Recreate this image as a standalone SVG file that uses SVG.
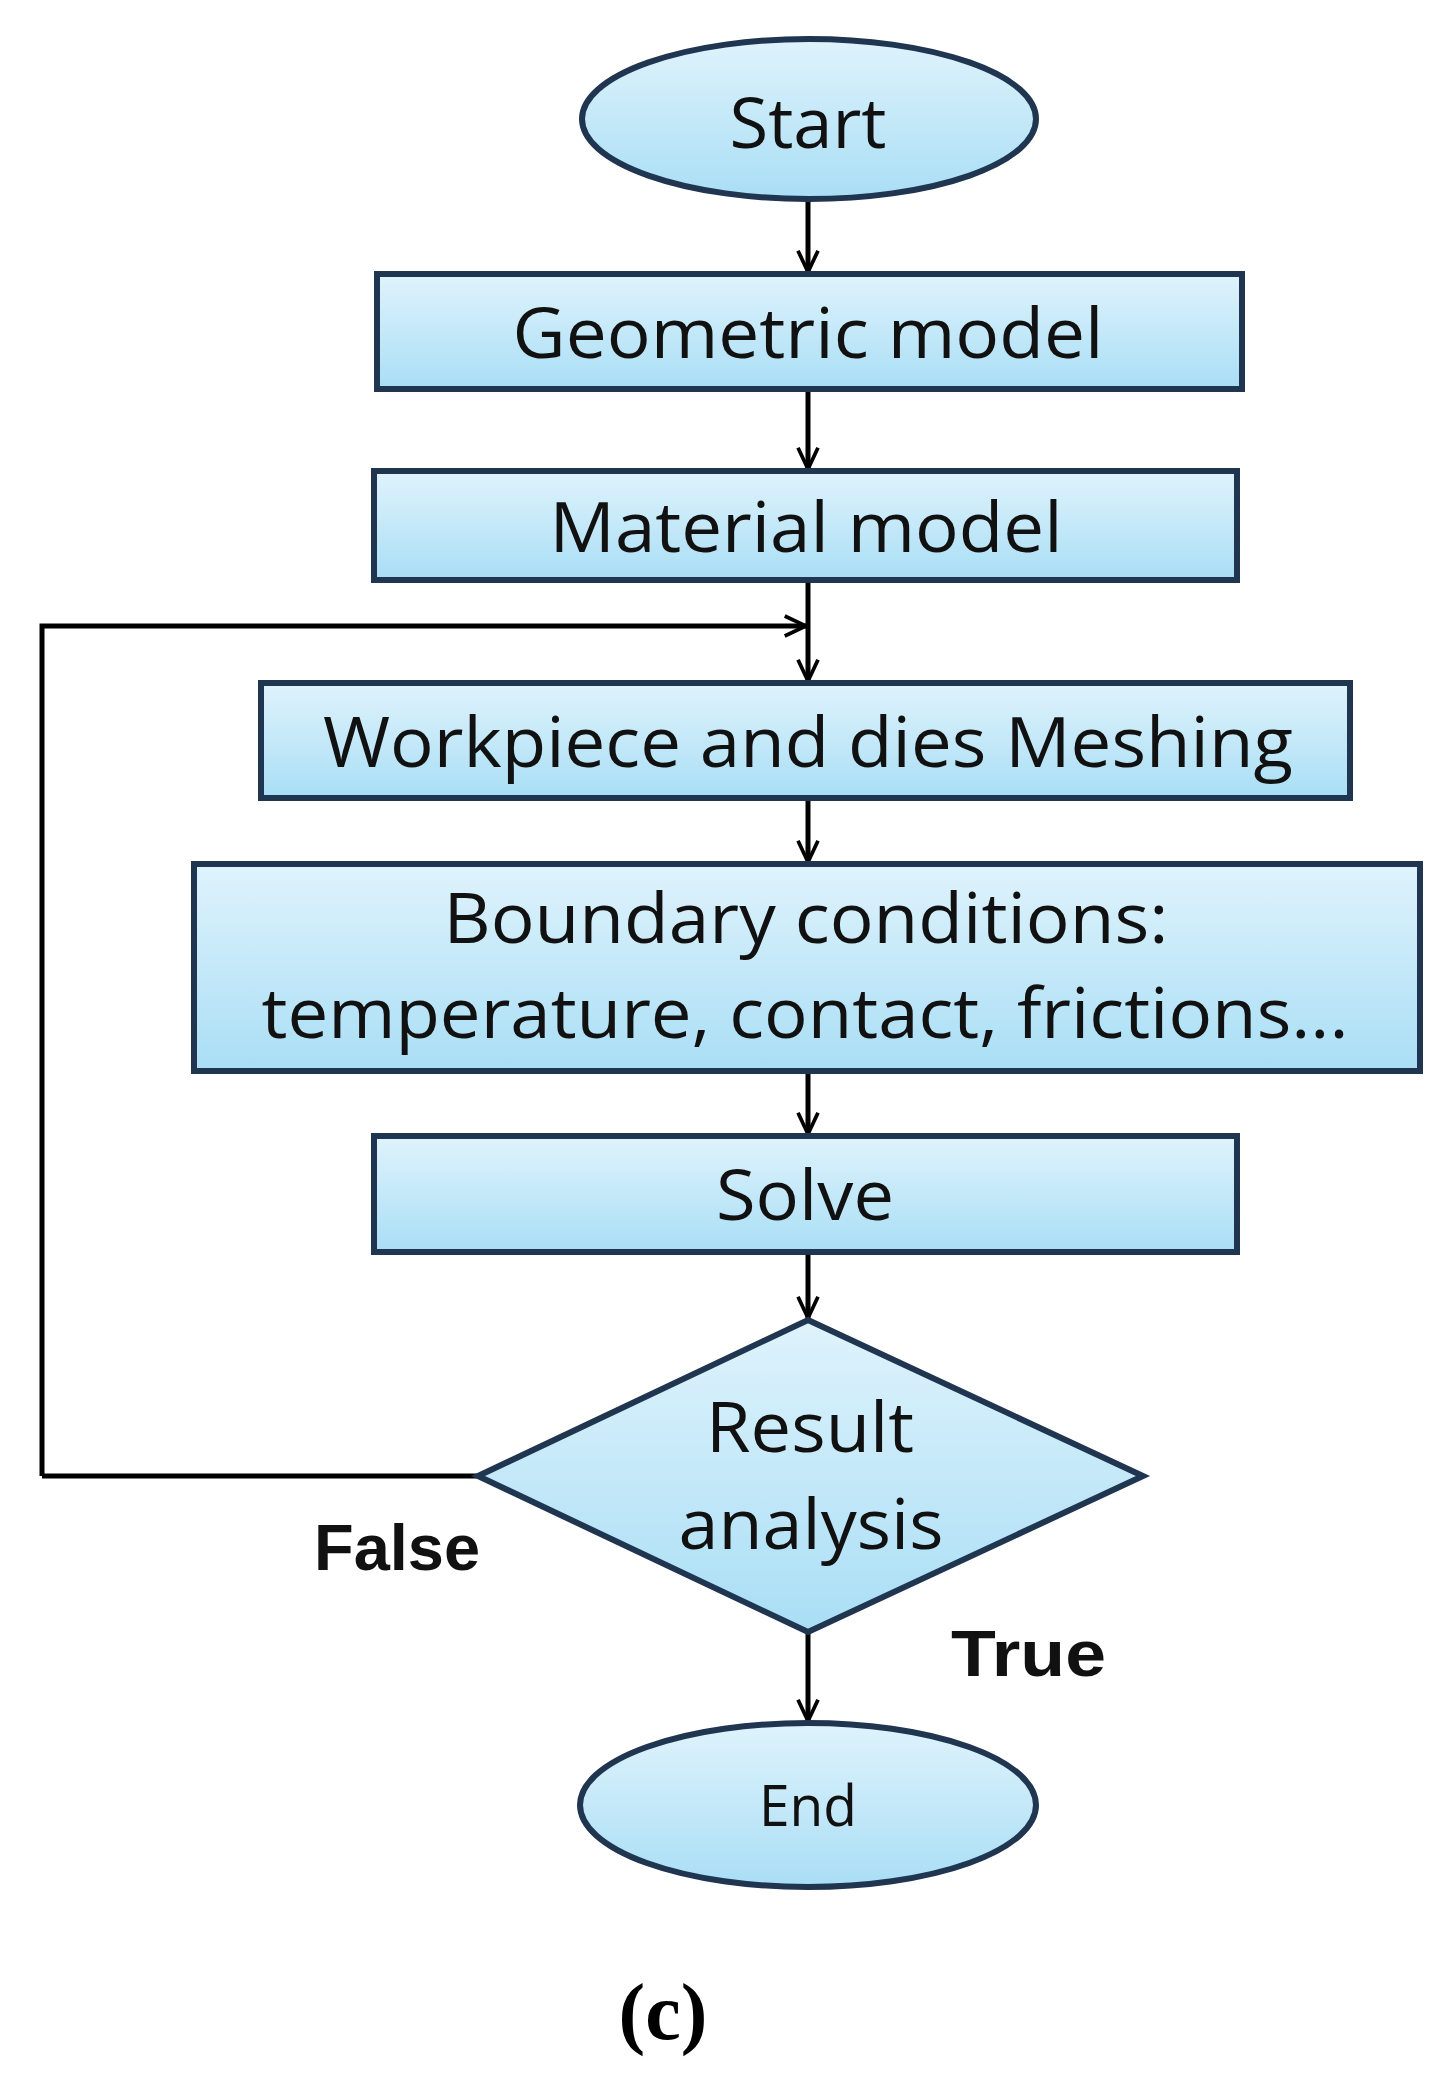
<svg xmlns="http://www.w3.org/2000/svg" width="1441" height="2077" viewBox="0 0 1441 2077">
<style>
.n{stroke:#1f3550;stroke-width:6;fill:url(#g)}
.t{font-family:"Open Sans","Liberation Sans",sans-serif;font-size:70px;fill:#111;text-anchor:middle}
.c{stroke:#000;stroke-width:5;fill:none;marker-end:url(#a)}
.l{font-family:"Liberation Sans",sans-serif;font-weight:bold;font-size:64px;fill:#111}
</style>
<defs>
<linearGradient id="g" x1="0" y1="0" x2="0" y2="1"><stop offset="0" stop-color="#dff3fc"/><stop offset="1" stop-color="#a9def5"/></linearGradient>
<marker id="a" viewBox="0 0 20 20" refX="19" refY="10" markerWidth="5" markerHeight="5" markerUnits="strokeWidth" orient="auto"><path d="M2,2 L19,10 L2,18" fill="none" stroke="#000" stroke-width="3"/></marker>
</defs>
<rect width="1441" height="2077" fill="#fff"/>
<g id="connectors">
<path class="c" d="M808,199 V272"/>
<path class="c" d="M808,389 V469"/>
<path class="c" d="M808,580 V681"/>
<path class="c" d="M42,1476 V626 H806"/>
<path d="M478,1476 H42" stroke="#000" stroke-width="5" fill="none"/>
<path class="c" d="M808,798 V862"/>
<path class="c" d="M808,1071 V1134"/>
<path class="c" d="M808,1252 V1318"/>
<path class="c" d="M808,1632 V1721"/>
</g>
<g id="start"><ellipse class="n" cx="809" cy="119" rx="227" ry="80"/><text class="t" x="808" y="148" textLength="157" lengthAdjust="spacingAndGlyphs">Start</text></g>
<g id="geometric"><rect class="n" x="377" y="274" width="865" height="115"/><text class="t" x="808" y="358" textLength="591" lengthAdjust="spacingAndGlyphs">Geometric model</text></g>
<g id="material"><rect class="n" x="374" y="471" width="863" height="109"/><text class="t" x="806" y="552" textLength="513" lengthAdjust="spacingAndGlyphs">Material model</text></g>
<g id="meshing"><rect class="n" x="261" y="683" width="1089" height="115"/><text class="t" x="808" y="767" textLength="970" lengthAdjust="spacingAndGlyphs">Workpiece and dies Meshing</text></g>
<g id="boundary"><rect class="n" x="194" y="864" width="1226" height="207"/><text class="t" x="806" y="943" textLength="725" lengthAdjust="spacingAndGlyphs">Boundary conditions:</text><text class="t" x="805" y="1038" textLength="1087" lengthAdjust="spacingAndGlyphs">temperature, contact, frictions...</text></g>
<g id="solve"><rect class="n" x="374" y="1136" width="863" height="116"/><text class="t" x="805" y="1220" textLength="178" lengthAdjust="spacingAndGlyphs">Solve</text></g>
<g id="result"><polygon class="n" points="808,1320 1143,1476 808,1632 478,1476"/><text class="t" x="810" y="1452" textLength="208" lengthAdjust="spacingAndGlyphs">Result</text><text class="t" x="811" y="1549" textLength="265" lengthAdjust="spacingAndGlyphs">analysis</text></g>
<g id="end"><ellipse class="n" cx="808" cy="1805" rx="228" ry="82"/><text class="t" x="808" y="1826" style="font-size:56px" textLength="98" lengthAdjust="spacingAndGlyphs">End</text></g>
<text class="l" x="314" y="1570" textLength="166" lengthAdjust="spacingAndGlyphs">False</text>
<text class="l" x="951" y="1676" textLength="155" lengthAdjust="spacingAndGlyphs">True</text>
<text x="663" y="2039" style="font-family:'Liberation Serif',serif;font-weight:bold;font-size:80px;text-anchor:middle">(c)</text>
</svg>
